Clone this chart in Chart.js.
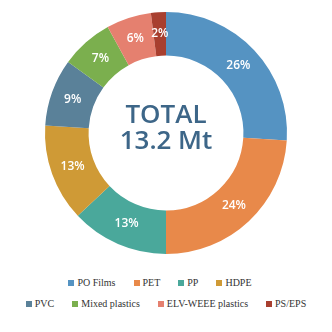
<!DOCTYPE html>
<html>
<head>
<meta charset="utf-8">
<script src="https://cdn.jsdelivr.net/npm/chart.js@4"></script>
<style>
  html, body { margin: 0; padding: 0; background: #fff; }
  #wrap { position: relative; width: 332px; height: 332px; }
  #chart-box { position: absolute; left: 0; top: 0; width: 332px; height: 256px; }
  #legend { position: absolute; left: 0; top: 272px; width: 332px;
    font-family: "Liberation Serif", serif; font-size: 10px; color: #333; }
  .row { display: flex; justify-content: center; gap: 18px; height: 21px; align-items: center; }
  .item { display: flex; align-items: center; white-space: nowrap; }
  .sw { width: 6px; height: 6px; margin-right: 3px; }
</style>
</head>
<body>
<div id="wrap">
  <div id="chart-box"><canvas id="c"></canvas></div>
  <div id="legend"></div>
</div>
<script>
  // ── Data ────────────────────────────────────────────────────
  const categories = ['PO Films', 'PET', 'PP', 'HDPE', 'PVC', 'Mixed plastics', 'ELV-WEEE plastics', 'PS/EPS'];
  const shares = [26, 24, 13, 13, 9, 7, 6, 2];
  const colors = ['#5593c2', '#e8894a', '#4aa89b', '#cf9a36', '#5a8199', '#7baf4e', '#e5806f', '#a83f2f'];
  const centerLines = ['TOTAL', '13.2 Mt'];
  const legendRows = [4, 4];

  // percent labels on each slice
  const sliceLabels = {
    id: 'sliceLabels',
    afterDatasetsDraw(chart) {
      const ctx = chart.ctx;
      const meta = chart.getDatasetMeta(0);
      ctx.save();
      ctx.fillStyle = '#fff';
      ctx.font = '600 12px "Open Sans", sans-serif';
      ctx.textAlign = 'center';
      ctx.textBaseline = 'middle';
      meta.data.forEach((arc, i) => {
        const p = arc.tooltipPosition();
        ctx.fillText(shares[i] + '%', p.x, p.y);
      });
      ctx.restore();
    }
  };

  // total in the hole
  const centerText = {
    id: 'centerText',
    afterDraw(chart) {
      const ctx = chart.ctx;
      const arc = chart.getDatasetMeta(0).data[0];
      ctx.save();
      ctx.fillStyle = '#3d6688';
      ctx.font = '600 26px "Open Sans", sans-serif';
      ctx.textAlign = 'center';
      ctx.textBaseline = 'middle';
      ctx.fillText(centerLines[0], arc.x, arc.y - 17);
      ctx.fillText(centerLines[1], arc.x, arc.y + 9);
      ctx.restore();
    }
  };

  const chart = new Chart(document.getElementById('c'), {
    type: 'doughnut',
    data: {
      labels: categories,
      datasets: [{
        data: shares,
        backgroundColor: colors,
        borderWidth: 0
      }]
    },
    options: {
      responsive: true,
      maintainAspectRatio: false,
      animation: false,
      cutout: '64%',
      layout: { padding: { top: 12, bottom: 2 } },
      plugins: {
        legend: { display: false },
        tooltip: { enabled: false }
      }
    },
    plugins: [sliceLabels, centerText]
  });

  // ── HTML legend in two rows ─────────────────────────────────
  const legend = document.getElementById('legend');
  let k = 0;
  legendRows.forEach((n, r) => {
    const row = document.createElement('div');
    row.className = 'row';
    if (r === 0) row.style.paddingRight = '12px';
    for (let j = 0; j < n; j++, k++) {
      const item = document.createElement('div');
      item.className = 'item';
      const sw = document.createElement('span');
      sw.className = 'sw';
      sw.style.background = chart.data.datasets[0].backgroundColor[k];
      const t = document.createElement('span');
      t.textContent = chart.data.labels[k];
      item.appendChild(sw);
      item.appendChild(t);
      row.appendChild(item);
    }
    legend.appendChild(row);
  });
</script>
</body>
</html>
